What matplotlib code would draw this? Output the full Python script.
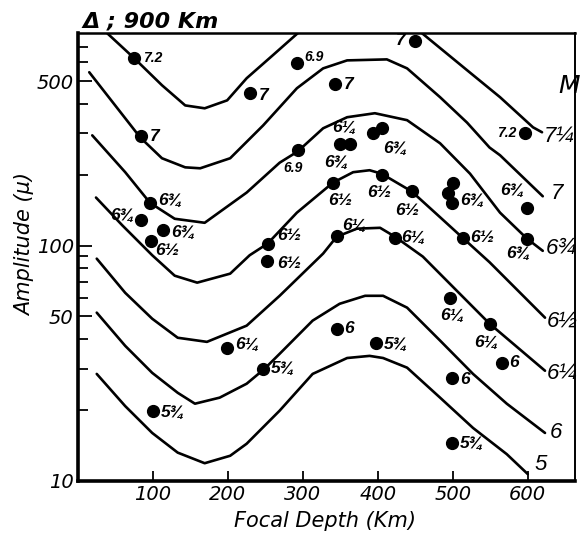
import numpy as np
import matplotlib
matplotlib.use('Agg')
import matplotlib.pyplot as plt
from matplotlib.ticker import FixedLocator, NullFormatter, FixedFormatter

lab_font = ['Liberation Sans', 'DejaVu Sans']

# iso-magnitude curves, depth (km) vs amplitude (micron)
curve_mag = ['7¼', '7', '6¾', '6½', '6¼', '6', '5']

dep_a = [39, 75, 112, 143, 169, 199, 225, 260, 293, 336, 389, 429, 459, 519, 563, 607, 619]
amp_a = [798, 625, 480, 394, 383, 414, 514, 644, 798, 980, 1072, 1000, 798, 556, 427, 318, 303]

dep_b = [15, 83, 112, 143, 163, 203, 247, 292, 327, 359, 412, 439, 483, 519, 549, 563, 620]
amp_b = [545, 288, 235, 215, 213, 235, 324, 466, 566, 612, 618, 566, 427, 333, 261, 242, 162]

dep_c = [19, 63, 96, 129, 169, 225, 269, 293, 327, 359, 396, 439, 483, 523, 563, 599, 620]
amp_c = [294, 205, 152, 130, 125, 168, 225, 251, 315, 351, 365, 341, 272, 202, 138, 107, 95]

dep_d = [24, 59, 99, 129, 159, 203, 229, 253, 292, 340, 367, 389, 405, 445, 483, 513, 549, 623]
amp_d = [160, 122, 91, 74.5, 69.6, 76, 91, 102, 138, 185, 205, 209, 202, 170, 132, 108, 85, 49.4]

dep_e = [25, 63, 99, 133, 172, 225, 269, 327, 345, 372, 403, 423, 460, 549, 623]
amp_e = [88, 63, 48.9, 40.6, 39, 45.7, 61.2, 92.5, 109, 118, 119, 109, 89.8, 46.6, 29.4]

dep_f = [25, 63, 99, 133, 156, 189, 225, 249, 269, 313, 349, 383, 407, 439, 483, 527, 572, 623]
amp_f = [51.9, 37.5, 28.8, 23.7, 21.3, 22.6, 25.9, 30, 34.7, 48, 56.6, 61.2, 61.2, 54.5, 39.5, 28.5, 21.3, 16]

dep_g = [25, 63, 99, 133, 169, 203, 225, 269, 313, 359, 389, 407, 439, 483, 527, 572, 600]
amp_g = [28.5, 20.8, 16, 13.2, 11.9, 12.8, 14.4, 19.9, 28.5, 33.3, 34, 33.3, 30.3, 22.6, 16.8, 13, 10.7]

# observed events
ev_depth = [75, 84, 96, 84, 113, 97, 100, 229, 292, 343, 293, 349, 363, 393, 405,
            340, 405, 445, 253, 252, 345, 423, 500, 493, 499, 599, 596, 449, 513, 599,
            496, 549, 565, 499, 345, 397, 499, 199, 247]
ev_amp = [625, 291, 151, 128, 116, 105, 19.9, 443, 594, 484, 254, 269, 269, 300, 315,
          185, 199, 170, 102, 86, 110, 108, 185, 168, 151, 145, 300, 740, 108, 107,
          60, 46.6, 31.8, 27.4, 44.4, 38.6, 14.5, 36.8, 30]
ev_mag = ['7.2', '7', '6¾', '6¾', '6¾', '6½', '5¾', '7', '6.9', '7', '6.9', '6¾', '6¼', '', '6¾',
          '6½', '6½', '6½', '6½', '6½', '6¼', '6¼', '', '', '6¾', '6¾', '7.2', '7', '6½', '6¾',
          '6¼', '6¼', '6', '6', '6', '5¾', '5¾', '6¼', '5¾']

# label offsets in pixels, (dx, dy, ha)
lab_off = [(9, 0, 'left'), (9, 0, 'left'), (8, 3, 'left'), (-7, 5, 'right'), (8, -2, 'left'),
           (4, -10, 'left'), (8, -2, 'left'), (9, -2, 'left'), (7, 6, 'left'), (9, 0, 'left'),
           (-5, -18, 'center'), (-3, -18, 'center'), (-6, 17, 'center'), (0, 0, 'left'),
           (2, -20, 'left'), (7, -18, 'center'), (-2, -17, 'center'), (-4, -19, 'center'),
           (10, 8, 'left'), (10, -2, 'left'), (6, 10, 'left'), (6, 0, 'left'), (0, 0, 'left'),
           (0, 0, 'left'), (8, 3, 'left'), (-3, 17, 'right'), (-8, 0, 'right'), (-9, 0, 'right'),
           (8, 0, 'left'), (-9, -15, 'center'), (2, -18, 'center'), (-3, -19, 'center'),
           (8, 0, 'left'), (8, -2, 'left'), (8, 0, 'left'), (8, -2, 'left'), (8, 0, 'left'),
           (8, 3, 'left'), (8, 0, 'left')]

curves = [(dep_a, amp_a), (dep_b, amp_b), (dep_c, amp_c), (dep_d, amp_d),
          (dep_e, amp_e), (dep_f, amp_f), (dep_g, amp_g)]
end_off = [(2, -4), (8, 3), (3, 2), (2, -3), (2, -3), (5, 0), (7, 10)]

fig = plt.figure(figsize=(5.81, 5.35), dpi=100)
ax = fig.add_axes([78 / 581, 1 - 481 / 535, 497 / 581, 448 / 535])
ax.set_yscale('log')
ax.set_xlim(0, 663)
ax.set_ylim(10, 800)

for (d, a), lab, off in zip(curves, curve_mag, end_off):
    ax.plot(d, a, c='k', lw=1.9, solid_capstyle='round', solid_joinstyle='round')
    ax.annotate(lab, (d[-1], a[-1]), xytext=off, textcoords='offset pixels',
                ha='left', va='center', fontsize=16, style='italic', family=lab_font,
                annotation_clip=False)

ax.plot(ev_depth, ev_amp, 'o', c='k', ms=8.5, ls='none')
for x, y, lab, (dx, dy, ha) in zip(ev_depth, ev_amp, ev_mag, lab_off):
    if lab:
        fs = 10 if '.' in lab else 12.5
        ax.annotate(lab, (x, y), xytext=(dx, dy), textcoords='offset pixels',
                    ha=ha, va='center', fontsize=fs, style='italic', weight='bold',
                    family=lab_font)

ax.yaxis.set_major_locator(FixedLocator([10, 50, 100, 500]))
ax.yaxis.set_major_formatter(FixedFormatter(['10', '50', '100', '500']))
ax.yaxis.set_minor_locator(FixedLocator([20, 30, 40, 60, 70, 80, 90, 200, 300, 400, 600, 700]))
ax.yaxis.set_minor_formatter(NullFormatter())
ax.set_xticks([100, 200, 300, 400, 500, 600])
ax.tick_params(which='both', direction='in', length=7, width=1.3, labelsize=14,
               pad=3, right=False, top=False)
ax.tick_params(axis='y', which='major', length=10)
for t in ax.get_xticklabels() + ax.get_yticklabels():
    t.set_style('italic')

ax.spines['left'].set_linewidth(2.6)
ax.spines['bottom'].set_linewidth(2.6)
ax.spines['top'].set_linewidth(1.8)
ax.spines['right'].set_linewidth(1.4)

fig.text(558 / 581, 1 - 86 / 535, 'M', ha='left', va='center', fontsize=18, style='italic')
fig.text(25 / 581, 1 - 245 / 535, 'Amplitude (μ)', rotation=90, ha='center', va='center',
         fontsize=15, style='italic')
fig.text(325 / 581, 1 - 521 / 535, 'Focal Depth (Km)', ha='center', va='center',
         fontsize=15, style='italic')
fig.text(82 / 581, 1 - 21 / 535, 'Δ ; 900 Km', ha='left', va='center',
         fontsize=16, style='italic', weight='bold')

fig.savefig('out.png', dpi=100)
